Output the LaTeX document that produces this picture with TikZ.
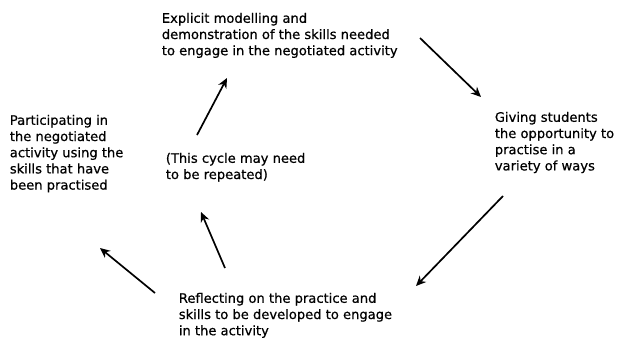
\documentclass[tikz,border=0pt]{standalone}
\usepackage{fontspec}
\setmainfont[FakeBold=0.6]{DejaVu Sans}
\usepackage{tikz}
\usetikzlibrary{arrows.meta}

\begin{document}
\begin{tikzpicture}[x=1pt,y=1pt,->,>={Stealth[length=10pt,width=9pt]},
  line width=1.7pt,
  cycle text/.style={anchor=north west,align=left,inner sep=0pt,
    font=\fontsize{13.1}{16.2}\selectfont}]
  \useasboundingbox (0,0) rectangle (617,-341);

  \node[cycle text] (model) at (161,-12) {Explicit modelling and\\demonstration of the skills needed\\to engage in the negotiated activity};
  \node[cycle text] (give) at (494,-111) {Giving students\\the opportunity to\\practise in a\\variety of ways};
  \node[cycle text] (reflect) at (178,-292) {Reflecting on the practice and\\skills to be developed to engage\\in the activity};
  \node[cycle text] (take) at (9,-114) {Participating in\\the negotiated\\activity using the\\skills that have\\been practised};
  \node[cycle text] (note) at (165,-152) {(This cycle may need\\to be repeated)};

  % arrow ends
  \coordinate (a1) at (420,-38);  \coordinate (b1) at (481,-97);
  \coordinate (a2) at (503,-196); \coordinate (b2) at (416,-286);
  \coordinate (a3) at (155,-293); \coordinate (b3) at (100,-248);
  \coordinate (a4) at (225,-268); \coordinate (b4) at (201,-212);
  \coordinate (a5) at (197,-135); \coordinate (b5) at (227,-78);

  \draw (a1) -- (b1);
  \draw (a2) -- (b2);
  \draw (a3) -- (b3);
  \draw (a4) -- (b4);
  \draw (a5) -- (b5);
\end{tikzpicture}
\end{document}
